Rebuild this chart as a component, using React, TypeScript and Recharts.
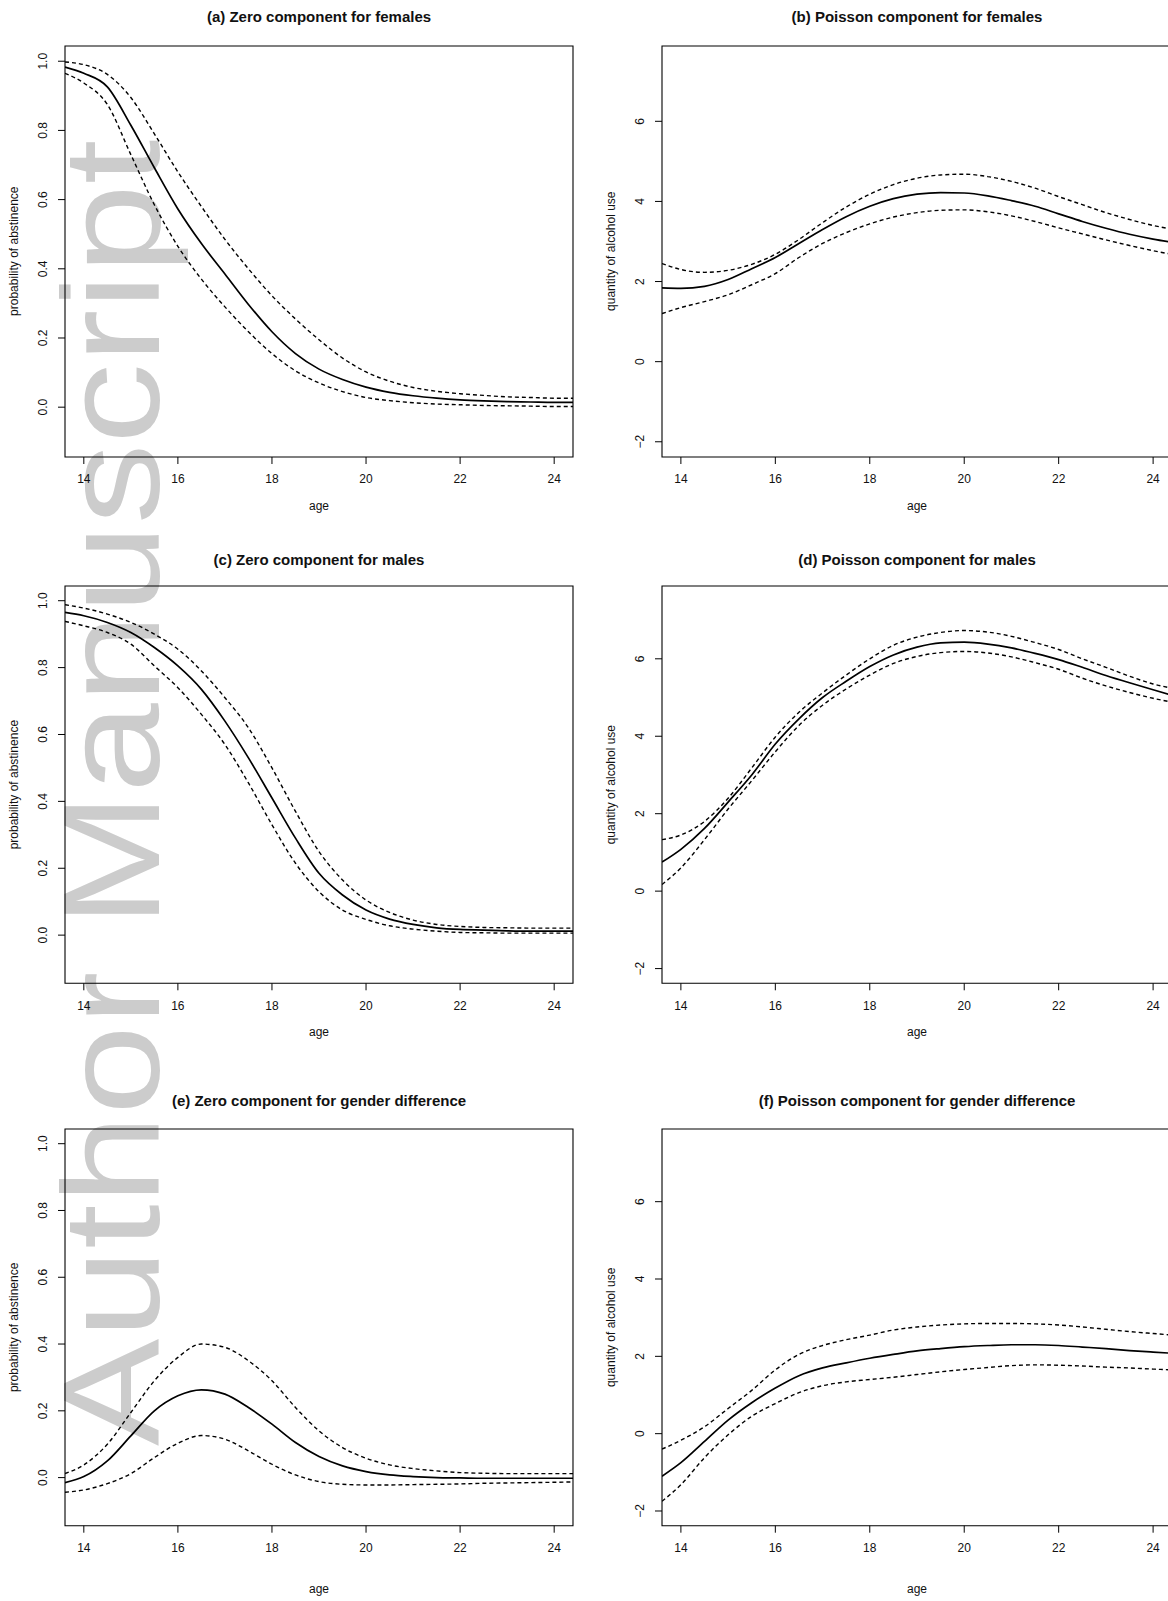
import React from 'react';
import { LineChart, Line, XAxis, YAxis, ReferenceArea } from 'recharts';

// ---------- data ----------
const AGES = [13.6, 14, 14.5, 15, 15.5, 16, 16.5, 17, 17.5, 18, 18.5, 19, 19.5, 20, 20.5, 21, 21.5, 22, 22.5, 23, 23.5, 24, 24.4];

const AGE_TICKS = [14, 16, 18, 20, 22, 24];
const PROB_TICKS = [0, 0.2, 0.4, 0.6, 0.8, 1.0];
const PROB_TICK_LABELS = ['0.0', '0.2', '0.4', '0.6', '0.8', '1.0'];
const QTY_TICKS = [-2, 0, 2, 4, 6];
const QTY_TICK_LABELS = ['\u22122', '0', '2', '4', '6'];

// (a) Zero component for females
const zeroFemaleFit = [0.983, 0.965, 0.926, 0.815, 0.692, 0.573, 0.473, 0.385, 0.297, 0.218, 0.155, 0.11, 0.08, 0.058, 0.043, 0.033, 0.026, 0.021, 0.018, 0.016, 0.015, 0.014, 0.014];
const zeroFemaleUpper = [0.998, 0.99, 0.962, 0.895, 0.79, 0.68, 0.58, 0.485, 0.4, 0.322, 0.255, 0.195, 0.142, 0.102, 0.075, 0.057, 0.046, 0.039, 0.034, 0.03, 0.028, 0.026, 0.026];
const zeroFemaleLower = [0.965, 0.937, 0.875, 0.73, 0.585, 0.465, 0.37, 0.29, 0.218, 0.155, 0.105, 0.07, 0.045, 0.028, 0.019, 0.013, 0.009, 0.007, 0.005, 0.004, 0.003, 0.002, 0.002];

// (b) Poisson component for females
const poisFemaleFit = [1.84, 1.83, 1.88, 2.05, 2.32, 2.6, 2.95, 3.3, 3.62, 3.88, 4.07, 4.18, 4.22, 4.21, 4.14, 4.02, 3.88, 3.69, 3.5, 3.33, 3.18, 3.06, 2.98];
const poisFemaleUpper = [2.45, 2.3, 2.23, 2.28, 2.43, 2.68, 3.05, 3.47, 3.86, 4.18, 4.42, 4.58, 4.66, 4.68, 4.62, 4.5, 4.33, 4.12, 3.92, 3.72, 3.55, 3.4, 3.31];
const poisFemaleLower = [1.2, 1.35, 1.5, 1.67, 1.92, 2.2, 2.6, 2.95, 3.22, 3.44, 3.61, 3.72, 3.78, 3.79, 3.74, 3.64, 3.5, 3.34, 3.19, 3.04, 2.9, 2.77, 2.68];

// (c) Zero component for males
const zeroMaleFit = [0.965, 0.955, 0.935, 0.905, 0.86, 0.805, 0.735, 0.64, 0.53, 0.41, 0.29, 0.185, 0.12, 0.075, 0.048, 0.032, 0.022, 0.017, 0.015, 0.013, 0.012, 0.012, 0.012];
const zeroMaleUpper = [0.988, 0.978, 0.96, 0.935, 0.9, 0.855, 0.79, 0.71, 0.62, 0.5, 0.37, 0.25, 0.165, 0.105, 0.068, 0.045, 0.032, 0.026, 0.023, 0.022, 0.021, 0.021, 0.021];
const zeroMaleLower = [0.938, 0.925, 0.905, 0.87, 0.805, 0.74, 0.66, 0.57, 0.455, 0.33, 0.215, 0.13, 0.075, 0.047, 0.028, 0.018, 0.012, 0.008, 0.007, 0.006, 0.006, 0.006, 0.006];

// (d) Poisson component for males
const poisMaleFit = [0.75, 1.08, 1.62, 2.3, 3.0, 3.8, 4.45, 5.0, 5.42, 5.8, 6.1, 6.3, 6.41, 6.43, 6.38, 6.28, 6.14, 5.98, 5.78, 5.57, 5.38, 5.2, 5.06];
const poisMaleUpper = [1.33, 1.45, 1.8, 2.4, 3.18, 3.98, 4.62, 5.12, 5.58, 6.0, 6.35, 6.56, 6.68, 6.73, 6.69, 6.58, 6.42, 6.24, 6.0, 5.78, 5.55, 5.35, 5.24];
const poisMaleLower = [0.17, 0.6, 1.33, 2.12, 2.85, 3.6, 4.28, 4.8, 5.22, 5.58, 5.88, 6.06, 6.16, 6.19, 6.15, 6.05, 5.9, 5.73, 5.5, 5.3, 5.13, 4.98, 4.88];

// (e) Zero component for gender difference
const zeroDiffFit = [-0.015, 0.003, 0.05, 0.125, 0.2, 0.245, 0.263, 0.25, 0.21, 0.16, 0.105, 0.063, 0.035, 0.018, 0.008, 0.003, 0.0, -0.001, -0.002, -0.002, -0.002, -0.002, -0.002];
const zeroDiffUpper = [0.012, 0.038, 0.1, 0.195, 0.29, 0.36, 0.4, 0.39, 0.35, 0.29, 0.21, 0.14, 0.09, 0.058, 0.038, 0.027, 0.02, 0.015, 0.013, 0.012, 0.012, 0.012, 0.012];
const zeroDiffLower = [-0.044, -0.037, -0.018, 0.012, 0.06, 0.103, 0.126, 0.115, 0.08, 0.04, 0.008, -0.012, -0.02, -0.022, -0.022, -0.021, -0.02, -0.019, -0.017, -0.016, -0.015, -0.014, -0.013];

// (f) Poisson component for gender difference
const poisDiffFit = [-1.1, -0.75, -0.2, 0.35, 0.8, 1.18, 1.5, 1.7, 1.83, 1.95, 2.05, 2.14, 2.2, 2.25, 2.28, 2.3, 2.3, 2.28, 2.24, 2.2, 2.15, 2.11, 2.08];
const poisDiffUpper = [-0.4, -0.17, 0.18, 0.65, 1.12, 1.65, 2.05, 2.28, 2.43, 2.55, 2.68, 2.76, 2.81, 2.84, 2.85, 2.85, 2.84, 2.81, 2.76, 2.7, 2.64, 2.59, 2.55];
const poisDiffLower = [-1.75, -1.32, -0.62, -0.03, 0.45, 0.78, 1.06, 1.24, 1.34, 1.4, 1.46, 1.53, 1.6, 1.66, 1.71, 1.76, 1.78, 1.77, 1.75, 1.72, 1.7, 1.67, 1.65];

const TITLES = [
  '(a) Zero component for females',
  '(b) Poisson component for females',
  '(c) Zero component for males',
  '(d) Poisson component for males',
  '(e) Zero component for gender difference',
  '(f) Poisson component for gender difference',
];

// ---------- layout ----------
const FONT = '"Liberation Sans", Arial, Helvetica, sans-serif';
const X_DOMAIN: [number, number] = [13.6, 24.4];
const PROB_DOMAIN: [number, number] = [-0.144, 1.044];
const QTY_DOMAIN: [number, number] = [-2.38, 7.88];

const COLS = [
  { left: 65, width: 508 },
  { left: 662, width: 510 },
];
const ROWS = [
  { top: 45.7, height: 411, titleY: 22, ageY: 510 },
  { top: 586, height: 397.3, titleY: 564.5, ageY: 1036 },
  { top: 1129, height: 396.7, titleY: 1106, ageY: 1593 },
];

const ML = 60; // y axis area width
const MT = 10;

type PanelDef = {
  title: string;
  row: number;
  col: number;
  kind: 'prob' | 'qty';
  fit: number[];
  upper: number[];
  lower: number[];
};

const PANELS: PanelDef[] = [
  { title: TITLES[0], row: 0, col: 0, kind: 'prob', fit: zeroFemaleFit, upper: zeroFemaleUpper, lower: zeroFemaleLower },
  { title: TITLES[1], row: 0, col: 1, kind: 'qty', fit: poisFemaleFit, upper: poisFemaleUpper, lower: poisFemaleLower },
  { title: TITLES[2], row: 1, col: 0, kind: 'prob', fit: zeroMaleFit, upper: zeroMaleUpper, lower: zeroMaleLower },
  { title: TITLES[3], row: 1, col: 1, kind: 'qty', fit: poisMaleFit, upper: poisMaleUpper, lower: poisMaleLower },
  { title: TITLES[4], row: 2, col: 0, kind: 'prob', fit: zeroDiffFit, upper: zeroDiffUpper, lower: zeroDiffLower },
  { title: TITLES[5], row: 2, col: 1, kind: 'qty', fit: poisDiffFit, upper: poisDiffUpper, lower: poisDiffLower },
];

function Panel({ p }: { p: PanelDef }) {
  const col = COLS[p.col];
  const row = ROWS[p.row];
  const boxW = col.width;
  const boxH = row.height;
  const W = boxW + ML + 10;
  const H = boxH + MT + 40;
  const data = AGES.map((age, i) => ({ age, fit: p.fit[i], upper: p.upper[i], lower: p.lower[i] }));
  const yDomain = p.kind === 'prob' ? PROB_DOMAIN : QTY_DOMAIN;
  const yTicks = p.kind === 'prob' ? PROB_TICKS : QTY_TICKS;
  const yLabels = p.kind === 'prob' ? PROB_TICK_LABELS : QTY_TICK_LABELS;
  const bottom = MT + boxH;

  const XTick = (props: any) => (
    <text x={props.x} y={bottom + 26.3} textAnchor="middle" fontSize={12} fill="#111" fontFamily={FONT}>
      {props.payload.value}
    </text>
  );
  const YTick = (props: any) => {
    const v = props.payload.value;
    const idx = yTicks.indexOf(v);
    const lbl = idx >= 0 ? yLabels[idx] : String(v);
    const bx = ML - 17.7;
    return (
      <text x={bx} y={props.y} textAnchor="middle" fontSize={12} fill="#111" fontFamily={FONT} transform={`rotate(-90 ${bx} ${props.y})`}>
        {lbl}
      </text>
    );
  };

  return (
    <div style={{ position: 'absolute', left: col.left - ML, top: row.top - MT, width: W, height: H }}>
      <LineChart width={W} height={H} data={data} margin={{ top: MT, right: 10, bottom: 10, left: 0 }}>
        <XAxis
          dataKey="age"
          type="number"
          domain={X_DOMAIN}
          allowDataOverflow
          ticks={AGE_TICKS}
          interval={0}
          height={30}
          axisLine={false}
          tickLine={{ stroke: '#000', strokeWidth: 1 }}
          tickSize={7}
          tick={<XTick />}
        />
        <YAxis
          type="number"
          domain={yDomain}
          allowDataOverflow
          ticks={yTicks}
          interval={0}
          width={ML}
          axisLine={false}
          tickLine={{ stroke: '#000', strokeWidth: 1 }}
          tickSize={7}
          tick={<YTick />}
        />
        <ReferenceArea x1={X_DOMAIN[0]} x2={X_DOMAIN[1]} y1={yDomain[0]} y2={yDomain[1]} fill="none" fillOpacity={0} stroke="#000" strokeWidth={1.1} />
        <Line dataKey="upper" type="monotone" stroke="#000" strokeWidth={1.4} strokeDasharray="4 3" dot={false} isAnimationActive={false} />
        <Line dataKey="lower" type="monotone" stroke="#000" strokeWidth={1.4} strokeDasharray="4 3" dot={false} isAnimationActive={false} />
        <Line dataKey="fit" type="monotone" stroke="#000" strokeWidth={1.7} dot={false} isAnimationActive={false} />
      </LineChart>
    </div>
  );
}

function Labels() {
  return (
    <svg width={1168} height={1601} style={{ position: 'absolute', left: 0, top: 0, pointerEvents: 'none' }}>
      {PANELS.map((p, i) => {
        const col = COLS[p.col];
        const row = ROWS[p.row];
        const cx = col.left + col.width / 2;
        const cy = row.top + row.height / 2;
        const lx = col.left - 46.5;
        return (
          <g key={i}>
            <text x={cx} y={row.titleY} textAnchor="middle" fontSize={15} fontWeight="bold" fill="#111" fontFamily={FONT}>
              {p.title}
            </text>
            <text x={cx} y={row.ageY} textAnchor="middle" fontSize={12} fill="#111" fontFamily={FONT}>
              age
            </text>
            <text x={lx} y={cy} textAnchor="middle" fontSize={12} fill="#111" fontFamily={FONT} transform={`rotate(-90 ${lx} ${cy})`}>
              {p.kind === 'prob' ? 'probability of abstinence' : 'quantity of alcohol use'}
            </text>
          </g>
        );
      })}
    </svg>
  );
}

function Watermark() {
  return (
    <svg width={1168} height={1601} style={{ position: 'absolute', left: 0, top: 0 }}>
      <g transform="translate(159 1446) rotate(-90) scale(1 0.85)">
        <text x={0} y={0} fontSize={161} fill="#cccccc" fontFamily={FONT}>
          Author Manuscript
        </text>
      </g>
    </svg>
  );
}

export default function App() {
  return (
    <div style={{ position: 'absolute', left: 0, top: 0, width: 1168, height: 1601, overflow: 'hidden', background: '#fff' }}>
      <Watermark />
      {PANELS.map((p, i) => (
        <Panel key={i} p={p} />
      ))}
      <Labels />
    </div>
  );
}
